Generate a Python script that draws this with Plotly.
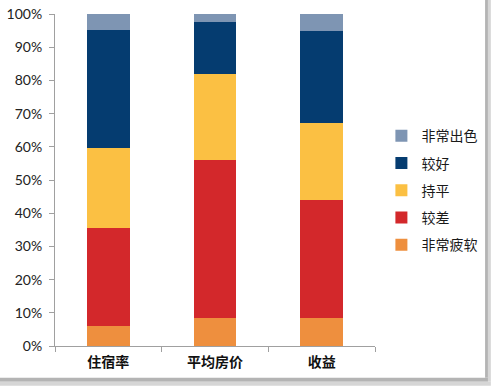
import plotly.graph_objects as go

categories = ["住宿率", "平均房价", "收益"]
series_names = ["非常疲软", "较差", "持平", "较好", "非常出色"]
very_weak = [6.0, 8.3, 8.5]
worse = [29.5, 47.6, 35.5]
flat = [24.0, 26.0, 23.3]
better = [35.7, 15.7, 27.7]
excellent = [4.8, 2.4, 5.0]
tick_vals = [0, 10, 20, 30, 40, 50, 60, 70, 80, 90, 100]
tick_text = [f"{v}%" for v in tick_vals]

values = [very_weak, worse, flat, better, excellent]
colors = ["#EE8F3E", "#D3282B", "#FBC043", "#053C70", "#7E95B3"]

fig = go.Figure()
for i, (name, vals, col) in enumerate(zip(series_names, values, colors)):
    fig.add_trace(go.Bar(
        x=categories, y=vals, name=name, marker_color=col,
        marker_line_width=0, legendgroup=name,
        legendrank=1000 - i,
    ))

# frame shadow (decoration, paper coordinates)
shadow = [
    dict(x0=1.344, x1=1.353, y0=-0.096, y1=1.05, c="#b4b4b4"),
    dict(x0=1.353, x1=1.362, y0=-0.108, y1=1.05, c="#d6d6d6"),
    dict(x0=-0.2, x1=1.353, y0=-0.108, y1=-0.096, c="#b4b4b4"),
    dict(x0=-0.2, x1=1.362, y0=-0.12, y1=-0.108, c="#d6d6d6"),
]
for s in shadow:
    fig.add_shape(type="rect", xref="paper", yref="paper",
                  x0=s["x0"], x1=s["x1"], y0=s["y0"], y1=s["y1"],
                  fillcolor=s["c"], line_width=0, layer="below")

fig.update_layout(
    barmode="stack",
    bargap=0.6,
    width=495, height=390,
    margin=dict(l=55, r=120, t=14, b=44),
    paper_bgcolor="white",
    plot_bgcolor="white",
    font=dict(family="Lato, Noto Sans CJK SC, sans-serif", size=14, color="#222"),
    legend=dict(
        x=1.02, y=0.68, xanchor="left", yanchor="top",
        traceorder="grouped", tracegroupgap=6,
        font=dict(family="Noto Sans CJK SC", size=14, color="#1a1a1a"),
        itemwidth=30,
    ),
    showlegend=True,
)
fig.update_yaxes(
    range=[0, 100], tickvals=tick_vals, ticktext=tick_text,
    showgrid=False, zeroline=False, automargin=False,
    showline=True, linecolor="#A0A0A0", linewidth=1,
    ticks="outside", ticklen=5, tickcolor="#A0A0A0",
    ticklabelstandoff=4,
    tickfont=dict(size=14, color="#222"),
)
fig.update_xaxes(
    showline=True, linecolor="#A0A0A0", linewidth=1, automargin=False,
    ticks="outside", ticklen=5, tickcolor="#A0A0A0",
    tickson="boundaries", ticklabelstandoff=3,
    tickfont=dict(family="Noto Sans CJK SC", size=14, color="#111", weight="bold"),
)

fig.write_html("out.html", post_script="document.body.style.margin='0';",
               config={"displayModeBar": False})
